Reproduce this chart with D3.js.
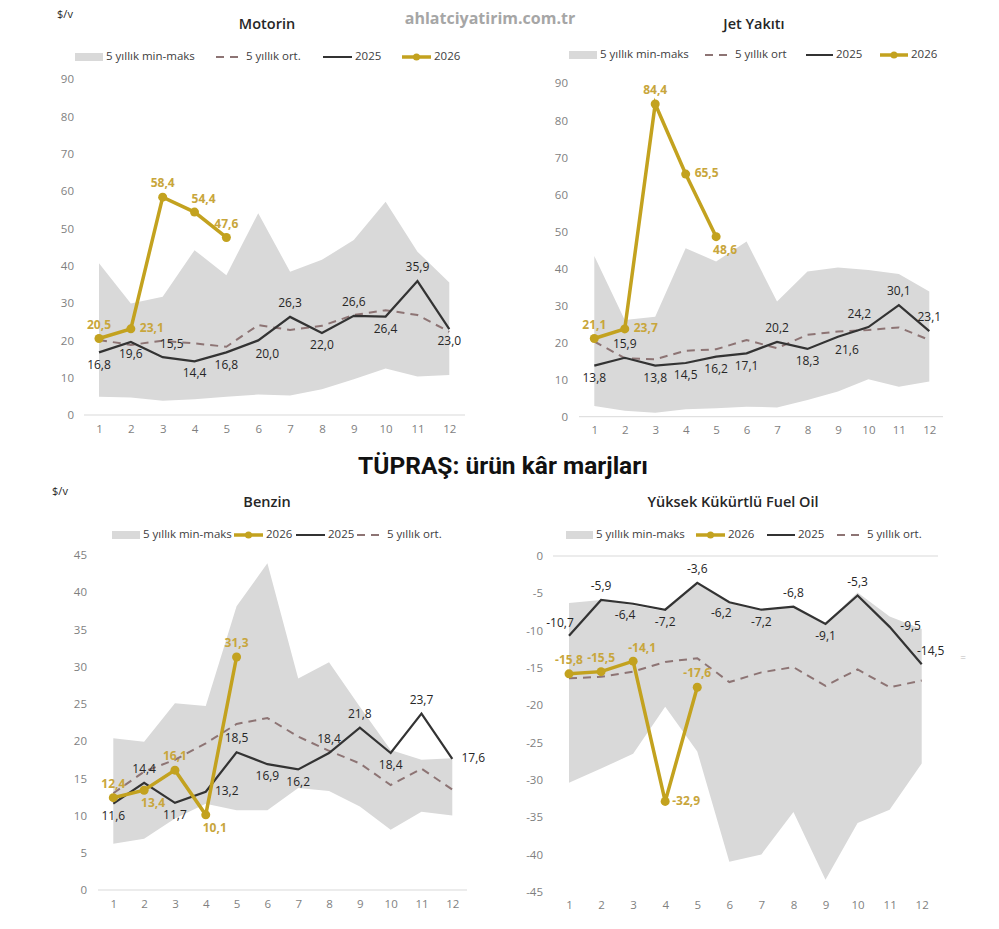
<!DOCTYPE html>
<html>
<head>
<meta charset="utf-8">
<script src="https://cdn.jsdelivr.net/npm/d3@7"></script>
<style>
  body { margin: 0; background: #fff; }
  svg { display: block; font-family: "Open Sans", sans-serif; }
</style>
</head>
<body>
<div id="wrapper"></div>
<script>
// aylar
const months = [1, 2, 3, 4, 5, 6, 7, 8, 9, 10, 11, 12];

// Motorin
const motorinMax  = [40.7, 29.9, 31.7, 44.2, 37.5, 54.1, 38.4, 41.6, 46.9, 57.2, 43.8, 35.5];
const motorinMin  = [4.9, 4.7, 3.8, 4.2, 4.9, 5.5, 5.2, 6.9, 9.6, 12.5, 10.3, 10.7];
const motorinAvg  = [20.1, 18.8, 19.9, 19.2, 18.3, 24.1, 22.8, 23.9, 26.8, 28.1, 26.8, 22.3];
const motorin2025 = [16.8, 19.6, 15.5, 14.4, 16.8, 20.0, 26.3, 22.0, 26.6, 26.4, 35.9, 23.0];
const motorin2026 = [20.5, 23.1, 58.4, 54.4, 47.6];

// Jet Yakıtı
const jetMax  = [43.4, 26.1, 27.0, 45.5, 41.9, 47.3, 31.1, 39.2, 40.3, 39.6, 38.5, 33.8];
const jetMin  = [2.9, 1.6, 1.1, 2.0, 2.3, 2.7, 2.5, 4.5, 6.8, 10.1, 8.1, 9.5];
const jetAvg  = [20.3, 15.8, 15.5, 17.8, 18.2, 20.7, 18.5, 22.1, 23.0, 23.4, 24.1, 20.7];
const jet2025 = [13.8, 15.9, 13.8, 14.5, 16.2, 17.1, 20.2, 18.3, 21.6, 24.2, 30.1, 23.1];
const jet2026 = [21.1, 23.7, 84.4, 65.5, 48.6];

// Benzin
const benzinMax  = [20.4, 19.9, 25.1, 24.7, 38.1, 43.9, 28.4, 30.6, 24.6, 18.8, 17.5, 17.7];
const benzinMin  = [6.2, 6.9, 9.6, 11.6, 10.7, 10.7, 13.7, 13.3, 11.2, 8.1, 10.5, 10.0];
const benzinAvg  = [13.0, 15.9, 17.5, 19.7, 22.3, 23.1, 20.6, 18.7, 17.0, 14.1, 16.3, 13.5];
const benzin2025 = [11.6, 14.4, 11.7, 13.2, 18.5, 16.9, 16.2, 18.4, 21.8, 18.4, 23.7, 17.6];
const benzin2026 = [12.4, 13.4, 16.1, 10.1, 31.3];

// Yüksek Kükürtlü Fuel Oil
const fuelMax  = [-6.3, -5.9, -6.6, -7.4, -3.7, -6.3, -7.2, -6.8, -9.0, -4.9, -8.1, -9.8];
const fuelMin  = [-30.4, -28.5, -26.5, -20.2, -26.2, -41.0, -40.0, -34.3, -43.4, -35.8, -34.0, -27.8];
const fuelAvg  = [-16.4, -16.2, -15.5, -14.2, -13.7, -16.9, -15.6, -14.9, -17.4, -15.2, -17.6, -16.7];
const fuel2025 = [-10.7, -5.9, -6.4, -7.2, -3.6, -6.2, -7.2, -6.8, -9.1, -5.3, -9.5, -14.5];
const fuel2026 = [-15.8, -15.5, -14.1, -32.9, -17.6];

// eksen etiketleri
const ticks90 = [0, 10, 20, 30, 40, 50, 60, 70, 80, 90];
const ticks45 = [0, 5, 10, 15, 20, 25, 30, 35, 40, 45];
const ticksNeg = [-45, -40, -35, -30, -25, -20, -15, -10, -5, 0];

// etiket yerleri (a=üst, b=alt, r=sağ ...)
const offsets = {
    a:  [0, -13], b:  [0, 13], r: [21, 0],
    ar: [9, -12], br: [9, 14], al: [-9, -12], bl: [-8, 12]
};

const width = 999, height = 929;
const svg = d3.select("#wrapper").append("svg")
    .attr("width", width)
    .attr("height", height);

const gold = "#c3a21f", goldText = "#c8a63c", darkLine = "#333333", avgColor = "#8d7474", bandColor = "#d9d9d9";
const fmt = d => d.toFixed(1).replace(".", ",");

function drawPanel(p) {
    const x = d3.scaleLinear().domain([1, 12]).range(p.xRange);
    const y = d3.scaleLinear().domain(p.yDomain).range(p.yRange);
    const g = svg.append("g");

    // başlık
    g.append("text")
        .attr("x", p.title[0]).attr("y", p.title[1])
        .attr("text-anchor", "middle").attr("dominant-baseline", "middle")
        .attr("font-size", 14.5).attr("font-weight", 600).attr("fill", "#262626")
        .text(p.name);

    // lejant
    p.legend.forEach(it => {
        const ly = p.legendY;
        if (it.kind === "band") {
            g.append("rect").attr("x", it.x0).attr("y", ly - 4).attr("width", it.x1 - it.x0).attr("height", 8).attr("fill", bandColor);
        } else if (it.kind === "avg") {
            g.append("line").attr("x1", it.x0).attr("x2", it.x1).attr("y1", ly).attr("y2", ly)
                .attr("stroke", avgColor).attr("stroke-width", 2).attr("stroke-dasharray", "8,6");
        } else if (it.kind === "y2025") {
            g.append("line").attr("x1", it.x0).attr("x2", it.x1).attr("y1", ly).attr("y2", ly)
                .attr("stroke", darkLine).attr("stroke-width", 2);
        } else {
            g.append("line").attr("x1", it.x0).attr("x2", it.x1).attr("y1", ly).attr("y2", ly)
                .attr("stroke", gold).attr("stroke-width", 3.5);
            g.append("circle").attr("cx", (it.x0 + it.x1) / 2).attr("cy", ly).attr("r", 3.5).attr("fill", gold);
        }
        g.append("text").attr("x", it.x1 + 3).attr("y", ly).attr("dominant-baseline", "middle")
            .attr("font-size", 11.5).attr("fill", "#404040").text(it.text);
    });

    // min-maks bandı
    const bandData = months.map((m, i) => ({m: m, lo: p.min[i], hi: p.max[i]}));
    g.append("path")
        .attr("d", d3.area().x(d => x(d.m)).y0(d => y(d.lo)).y1(d => y(d.hi))(bandData))
        .attr("fill", bandColor);

    // 0 çizgisi
    g.append("line")
        .attr("x1", p.axisX[0]).attr("x2", p.axisX[1])
        .attr("y1", y(0)).attr("y2", y(0))
        .attr("stroke", "#d9d9d9").attr("stroke-width", 1);

    // y ekseni
    const yAxis = d3.axisLeft(y).tickValues(p.ticks).tickSize(0).tickPadding(0).tickFormat(d => d);
    const ya = g.append("g").attr("transform", `translate(${p.yLabelX},0)`).call(yAxis);
    ya.select(".domain").remove();
    ya.selectAll("text").attr("font-size", 11.5).attr("fill", "#7f7f7f").attr("font-family", "Open Sans");

    // x ekseni
    const xAxis = d3.axisBottom(x).tickValues(months).tickSize(0).tickPadding(0).tickFormat(d => d);
    const xa = g.append("g").attr("transform", `translate(0,${p.xLabelY - 7})`).call(xAxis);
    xa.select(".domain").remove();
    xa.selectAll("text").attr("font-size", 11.5).attr("fill", "#7f7f7f").attr("font-family", "Open Sans");

    const line = d3.line().x(d => x(d.m)).y(d => y(d.v));

    // 5 yıllık ort.
    g.append("path")
        .attr("d", line(months.map((m, i) => ({m: m, v: p.avg[i]}))))
        .attr("fill", "none").attr("stroke", avgColor).attr("stroke-width", 2)
        .attr("stroke-dasharray", "8,6");

    // 2025
    const d25 = months.map((m, i) => ({m: m, v: p.s2025[i]}));
    g.append("path").attr("d", line(d25))
        .attr("fill", "none").attr("stroke", darkLine).attr("stroke-width", 2.2)
        .attr("stroke-linejoin", "miter");

    // 2026
    const d26 = p.s2026.map((v, i) => ({m: months[i], v: v}));
    g.append("path").attr("d", line(d26))
        .attr("fill", "none").attr("stroke", gold).attr("stroke-width", 3.5);
    g.selectAll(null).data(d26).join("circle")
        .attr("cx", d => x(d.m)).attr("cy", d => y(d.v)).attr("r", 4.5).attr("fill", gold);

    // değer etiketleri
    g.selectAll(null).data(d25).join("text")
        .attr("x", (d, i) => x(d.m) + offsets[p.pos2025[i]][0])
        .attr("y", (d, i) => y(d.v) + offsets[p.pos2025[i]][1])
        .attr("text-anchor", "middle").attr("dominant-baseline", "middle")
        .attr("font-size", 12).attr("fill", "#262626")
        .text(d => fmt(d.v));
    g.selectAll(null).data(d26).join("text")
        .attr("x", (d, i) => x(d.m) + offsets[p.pos2026[i]][0])
        .attr("y", (d, i) => y(d.v) + offsets[p.pos2026[i]][1])
        .attr("text-anchor", "middle").attr("dominant-baseline", "middle")
        .attr("font-size", 12).attr("font-weight", 700).attr("fill", goldText)
        .text(d => fmt(d.v));
}

drawPanel({
    name: "Motorin", max: motorinMax, min: motorinMin, avg: motorinAvg, s2025: motorin2025, s2026: motorin2026,
    xRange: [99, 449.3], yDomain: [0, 90], yRange: [415, 79.3], ticks: ticks90,
    yLabelX: 74, axisX: [84, 465], xLabelY: 432, title: [267, 25], legendY: 57,
    legend: [
        {kind: "band", text: "5 yıllık min-maks", x0: 75, x1: 103},
        {kind: "avg", text: "5 yıllık ort.", x0: 216, x1: 243},
        {kind: "y2025", text: "2025", x0: 323, x1: 352},
        {kind: "y2026", text: "2026", x0: 402, x1: 431}
    ],
    pos2025: ["b", "b", "ar", "b", "b", "br", "a", "b", "a", "b", "a", "b"],
    pos2026: ["a", "r", "a", "ar", "a"]
});

drawPanel({
    name: "Jet Yakıtı", max: jetMax, min: jetMin, avg: jetAvg, s2025: jet2025, s2026: jet2026,
    xRange: [594.3, 929.3], yDomain: [0, 90], yRange: [416.7, 83.3], ticks: ticks90,
    yLabelX: 568, axisX: [579, 943], xLabelY: 433, title: [754, 25], legendY: 55,
    legend: [
        {kind: "band", text: "5 yıllık min-maks", x0: 569, x1: 597},
        {kind: "avg", text: "5 yıllık ort", x0: 705, x1: 732},
        {kind: "y2025", text: "2025", x0: 806, x1: 833},
        {kind: "y2026", text: "2026", x0: 880, x1: 908}
    ],
    pos2025: ["b", "a", "b", "b", "b", "b", "a", "b", "br", "al", "a", "a"],
    pos2026: ["a", "r", "a", "r", "br"]
});

drawPanel({
    name: "Benzin", max: benzinMax, min: benzinMin, avg: benzinAvg, s2025: benzin2025, s2026: benzin2026,
    xRange: [113.3, 452.3], yDomain: [0, 45], yRange: [890, 555], ticks: ticks45,
    yLabelX: 87, axisX: [98, 467], xLabelY: 907, title: [267, 503], legendY: 535,
    legend: [
        {kind: "band", text: "5 yıllık min-maks", x0: 112, x1: 140},
        {kind: "y2026", text: "2026", x0: 234, x1: 263},
        {kind: "y2025", text: "2025", x0: 296, x1: 325},
        {kind: "avg", text: "5 yıllık ort.", x0: 357, x1: 384}
    ],
    pos2025: ["b", "a", "b", "r", "a", "b", "b", "a", "a", "b", "a", "r"],
    pos2026: ["a", "br", "a", "br", "a"]
});

drawPanel({
    name: "Yüksek Kükürtlü Fuel Oil", max: fuelMax, min: fuelMin, avg: fuelAvg, s2025: fuel2025, s2026: fuel2026,
    xRange: [569, 921.7], yDomain: [-45, 0], yRange: [891.7, 556], ticks: ticksNeg,
    yLabelX: 543, axisX: [553, 938], xLabelY: 908, title: [733, 503], legendY: 535,
    legend: [
        {kind: "band", text: "5 yıllık min-maks", x0: 566, x1: 593},
        {kind: "y2026", text: "2026", x0: 696, x1: 725},
        {kind: "y2025", text: "2025", x0: 767, x1: 795},
        {kind: "avg", text: "5 yıllık ort.", x0: 837, x1: 864}
    ],
    pos2025: ["al", "a", "bl", "b", "a", "bl", "b", "a", "b", "a", "r", "ar"],
    pos2026: ["a", "a", "ar", "r", "a"]
});

// birim etiketleri
svg.append("text").attr("x", 65).attr("y", 15).attr("text-anchor", "middle").attr("dominant-baseline", "middle")
    .attr("font-size", 11).attr("fill", "#262626").text("$/v");
svg.append("text").attr("x", 60).attr("y", 492).attr("text-anchor", "middle").attr("dominant-baseline", "middle")
    .attr("font-size", 11).attr("fill", "#262626").text("$/v");

// ana başlık
svg.append("text").attr("x", 503).attr("y", 468)
    .attr("text-anchor", "middle").attr("dominant-baseline", "middle")
    .attr("font-family", "Roboto, 'Liberation Sans', sans-serif")
    .attr("font-size", 24.5).attr("font-weight", 700).attr("fill", "#111")
    .text("TÜPRAŞ: ürün kâr marjları");

// filigran
svg.append("text").attr("x", 490).attr("y", 20)
    .attr("text-anchor", "middle").attr("dominant-baseline", "middle")
    .attr("font-size", 16).attr("font-weight", 700).attr("fill", "#a6a6a6")
    .text("ahlatciyatirim.com.tr");

svg.append("text").attr("x", 963).attr("y", 658)
    .attr("text-anchor", "middle").attr("dominant-baseline", "middle")
    .attr("font-size", 10).attr("fill", "#bbb").text("=");
</script>
</body>
</html>
